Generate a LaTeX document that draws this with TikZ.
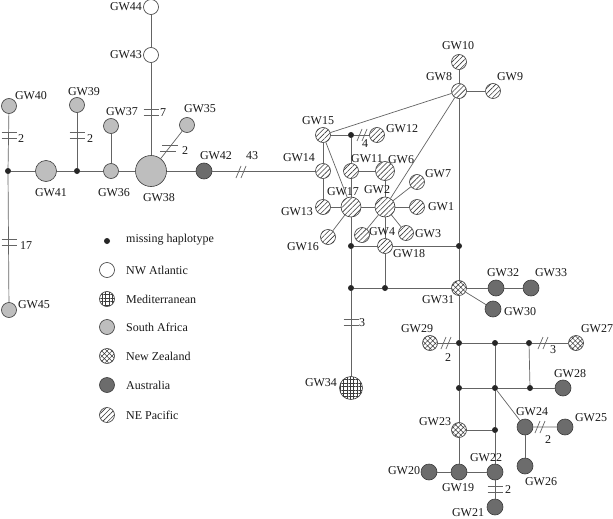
\documentclass[tikz,border=0pt]{standalone}
\usepackage{fontspec}
\setmainfont{Liberation Serif}
\usepackage{tikz}
\usetikzlibrary{patterns.meta, positioning}
\definecolor{safrica}{RGB}{190,190,190}
\definecolor{austral}{RGB}{108,108,108}
\definecolor{linegray}{RGB}{100,100,100}
\definecolor{rimgray}{RGB}{60,60,60}

% mutation ticks
\newcommand{\mutbars}[2]{\draw[tick] (#1-7.5,#2-3)--(#1+7.5,#2-3) (#1-7.5,#2+3)--(#1+7.5,#2+3);}
\newcommand{\mutslash}[2]{\draw[tick] (#1-5,#2+6)--(#1,#2-6) (#1,#2+6)--(#1+5,#2-6);}

\begin{document}
\begin{tikzpicture}[
    x=1pt, y=-1pt,
    edge/.style={draw=linegray, line width=.7pt},
    tick/.style={draw=linegray, line width=.7pt},
    hap/.style={circle, draw=rimgray, line width=.6pt, minimum size=15pt, inner sep=0pt},
    miss/.style={circle, fill=black!85, minimum size=6pt, inner sep=0pt},
    nwa/.style={hap, fill=white},
    med/.style={hap, pattern={Hatch[angle=0, distance=3.4pt, line width=.5pt]}, pattern color=rimgray},
    saf/.style={hap, fill=safrica},
    nzl/.style={hap, pattern={Hatch[angle=45, distance=3.6pt, line width=.5pt]}, pattern color=rimgray},
    aus/.style={hap, fill=austral, minimum size=16pt},
    nep/.style={hap, pattern={Lines[angle=45, distance=3.6pt, line width=.6pt]}, pattern color=rimgray},
    lab/.style={font=\fontsize{12}{14}\selectfont, inner sep=0pt, text=black!90}
]
    \fill[white] (0,0) rectangle (613,519);
    \useasboundingbox (0,0) rectangle (613,519);

    % South Africa / NW Atlantic side
    \node[miss] (d1) at (8,171) {};
    \node[miss] (d2) at (77,171) {};
    \node[saf] (gw40) at (9,106) {};
    \node[saf] (gw45) at (9,310) {};
    \node[saf, minimum size=21pt] (gw41) at (46,171) {};
    \node[saf] (gw39) at (77,105) {};
    \node[saf] (gw36) at (111,171) {};
    \node[saf] (gw37) at (111,126) {};
    \node[saf, minimum size=31pt] (gw38) at (151,171) {};
    \node[saf] (gw35) at (187,125) {};
    \node[nwa] (gw43) at (151,55) {};
    \node[nwa] (gw44) at (151,7) {};
    \node[aus] (gw42) at (204,171) {};

    % NE Pacific cluster
    \node[nep] (gw15) at (323,135) {};
    \node[miss] (d3) at (351,135) {};
    \node[nep] (gw12) at (377,135) {};
    \node[nep] (gw14) at (323,171) {};
    \node[nep] (gw11) at (351,171) {};
    \node[nep, minimum size=19pt] (gw6) at (385,171) {};
    \node[nep] (gw13) at (323,207) {};
    \node[nep, minimum size=20pt] (gw17) at (351,207) {};
    \node[nep, minimum size=20pt] (gw2) at (385,207) {};
    \node[nep] (gw1) at (417,207) {};
    \node[nep] (gw7) at (417,182) {};
    \node[nep] (gw16) at (328,237) {};
    \node[nep] (gw4) at (362,235) {};
    \node[nep] (gw3) at (406,233) {};
    \node[nep] (gw18) at (385,246) {};
    \node[miss] (d4) at (351,246) {};
    \node[miss] (d5) at (459,246) {};
    \node[nep] (gw8) at (459,91) {};
    \node[nep] (gw10) at (459,62) {};
    \node[nep] (gw9) at (493,91) {};

    % southern part
    \node[miss] (d6) at (385,288) {};
    \node[miss] (d7) at (351,288) {};
    \node[nzl] (gw31) at (459,288) {};
    \node[aus] (gw32) at (496,288) {};
    \node[aus] (gw33) at (531,288) {};
    \node[aus] (gw30) at (493,309) {};
    \node[med, minimum size=23pt] (gw34) at (351,388) {};
    \node[nzl] (gw29) at (430,343) {};
    \node[miss] (d8) at (459,343) {};
    \node[miss] (d9) at (495,343) {};
    \node[miss] (d10) at (529,343) {};
    \node[nzl] (gw27) at (576,343) {};
    \node[miss] (d11) at (459,388) {};
    \node[miss] (d12) at (495,388) {};
    \node[miss] (d13) at (530,388) {};
    \node[aus] (gw28) at (563,388) {};
    \node[aus] (gw24) at (525,427) {};
    \node[aus] (gw25) at (565,427) {};
    \node[aus] (gw26) at (525,466) {};
    \node[nzl] (gw23) at (459,430) {};
    \node[miss] (d14) at (495,430) {};
    \node[aus] (gw19) at (459,472) {};
    \node[aus] (gw20) at (429,472) {};
    \node[aus] (gw22) at (495,472) {};
    \node[aus] (gw21) at (495,507) {};

    % Connections
    \draw[edge] (gw40) -- (d1) -- (gw45);
    \draw[edge] (d1) -- (gw41) -- (d2) -- (gw36) -- (gw38) -- (gw42) -- (gw14);
    \draw[edge] (d2) -- (gw39);
    \draw[edge] (gw36) -- (gw37);
    \draw[edge] (gw38) -- (gw43) -- (gw44);
    \draw[edge] (gw38) -- (gw35);

    \draw[edge] (gw15) -- (gw14) -- (gw13) -- (gw17) -- (gw2) -- (gw1);
    \draw[edge] (gw15) -- (d3) -- (gw12);
    \draw[edge] (d3) -- (gw11) -- (gw17) -- (d4) -- (d7) -- (gw34);
    \draw[edge] (gw11) -- (gw6) -- (gw2);
    \draw[edge] (gw15) -- (gw17);
    \draw[edge] (gw15) -- (gw8);
    \draw[edge] (gw2) -- (gw8);
    \draw[edge] (gw2) -- (gw7);
    \draw[edge] (gw2) -- (gw4);
    \draw[edge] (gw2) -- (gw3);
    \draw[edge] (gw2) -- (gw18) -- (d6);
    \draw[edge] (gw17) -- (gw16);
    \draw[edge] (d4) -- (gw18) -- (d5);
    \draw[edge] (gw10) -- (gw8) -- (gw9);
    \draw[edge] (gw8) -- (d5) -- (gw31);
    \draw[edge] (d7) -- (d6) -- (gw31);

    \draw[edge] (gw31) -- (gw32) -- (gw33);
    \draw[edge] (gw31) -- (gw30);
    \draw[edge] (gw31) -- (d8) -- (d11) -- (gw23) -- (gw19);
    \draw[edge] (gw29) -- (d8) -- (d9) -- (d10) -- (gw27);
    \draw[edge] (d9) -- (d12) -- (d14) -- (gw22) -- (gw21);
    \draw[edge] (d10) -- (d13);
    \draw[edge] (d11) -- (d12) -- (d13) -- (gw28);
    \draw[edge] (d12) -- (gw24) -- (gw25);
    \draw[edge] (gw24) -- (gw26);
    \draw[edge] (gw23) -- (d14);
    \draw[edge] (gw20) -- (gw19) -- (gw22);

    % mutation steps
    \mutbars{9}{135}
    \mutbars{9}{242}
    \mutbars{77}{135}
    \mutbars{151}{112}
    \draw[tick] (162,145)--(178,145) (160,151)--(176,151);
    \mutslash{241}{172}
    \mutslash{362}{135}
    \mutbars{351}{322}
    \mutslash{446}{343}
    \mutslash{543}{343}
    \mutslash{540}{427}
    \mutbars{495}{489}

    \node[lab] (n40) at (21,139) {2};
    \node[lab] (n39) at (90,139) {2};
    \node[lab] (n45) at (26,246) {17};
    \node[lab] (n43) at (163,113) {7};
    \node[lab] (n35) at (185,151) {2};
    \node[lab] (n42) at (252,156) {43};
    \node[lab] (n12) at (365,144) {4};
    \node[lab] (n34) at (362,323) {3};
    \node[lab] (n29) at (448,358) {2};
    \node[lab] (n27) at (553,350) {3};
    \node[lab] (n25) at (548,440) {2};
    \node[lab] (n21) at (508,490) {2};

    % Haplotype labels
    \node[lab] at (31,96) {GW40};
    \node[lab] at (84,92) {GW39};
    \node[lab] at (51,193) {GW41};
    \node[lab] at (114,193) {GW36};
    \node[lab] at (122,112) {GW37};
    \node[lab] at (159,198) {GW38};
    \node[lab] at (200,109) {GW35};
    \node[lab] at (216,156) {GW42};
    \node[lab] at (126,7) {GW44};
    \node[lab] at (126,55) {GW43};
    \node[lab] at (34,305) {GW45};
    \node[lab] at (318,121) {GW15};
    \node[lab] at (402,129) {GW12};
    \node[lab] at (299,158) {GW14};
    \node[lab] at (367,159) {GW11};
    \node[lab] at (401,160) {GW6};
    \node[lab] at (297,212) {GW13};
    \node[lab] at (343,192) {GW17};
    \node[lab] at (377,190) {GW2};
    \node[lab] at (438,174) {GW7};
    \node[lab] at (441,207) {GW1};
    \node[lab] at (303,247) {GW16};
    \node[lab] at (382,232) {GW4};
    \node[lab] at (428,234) {GW3};
    \node[lab] at (409,254) {GW18};
    \node[lab] at (458,46) {GW10};
    \node[lab] at (439,77) {GW8};
    \node[lab] at (510,77) {GW9};
    \node[lab] at (438,300) {GW31};
    \node[lab] at (503,273) {GW32};
    \node[lab] at (551,273) {GW33};
    \node[lab] at (520,312) {GW30};
    \node[lab] at (417,329) {GW29};
    \node[lab] at (597,329) {GW27};
    \node[lab] at (570,374) {GW28};
    \node[lab] at (532,412) {GW24};
    \node[lab] at (591,418) {GW25};
    \node[lab] at (541,482) {GW26};
    \node[lab] at (435,422) {GW23};
    \node[lab] at (486,458) {GW22};
    \node[lab] at (404,471) {GW20};
    \node[lab] at (458,488) {GW19};
    \node[lab] at (468,513) {GW21};
    \node[lab] at (321,383) {GW34};

    % Legend
    \node[miss] (k1) at (107,241) {};
    \node[nwa] (k2) at (107,270) {};
    \node[med] (k3) at (107,299) {};
    \node[saf] (k4) at (107,327) {};
    \node[nzl] (k5) at (107,356) {};
    \node[aus, minimum size=15pt] (k6) at (107,385) {};
    \node[nep] (k7) at (107,415) {};
    \node[lab, anchor=west] at (126,240) {missing haplotype};
    \node[lab, anchor=west] at (126,270) {NW Atlantic};
    \node[lab, anchor=west] at (126,299) {Mediterranean};
    \node[lab, anchor=west] at (126,327) {South Africa};
    \node[lab, anchor=west] at (126,356) {New Zealand};
    \node[lab, anchor=west] at (126,385) {Australia};
    \node[lab, anchor=west] at (126,415) {NE Pacific};
\end{tikzpicture}
\end{document}
